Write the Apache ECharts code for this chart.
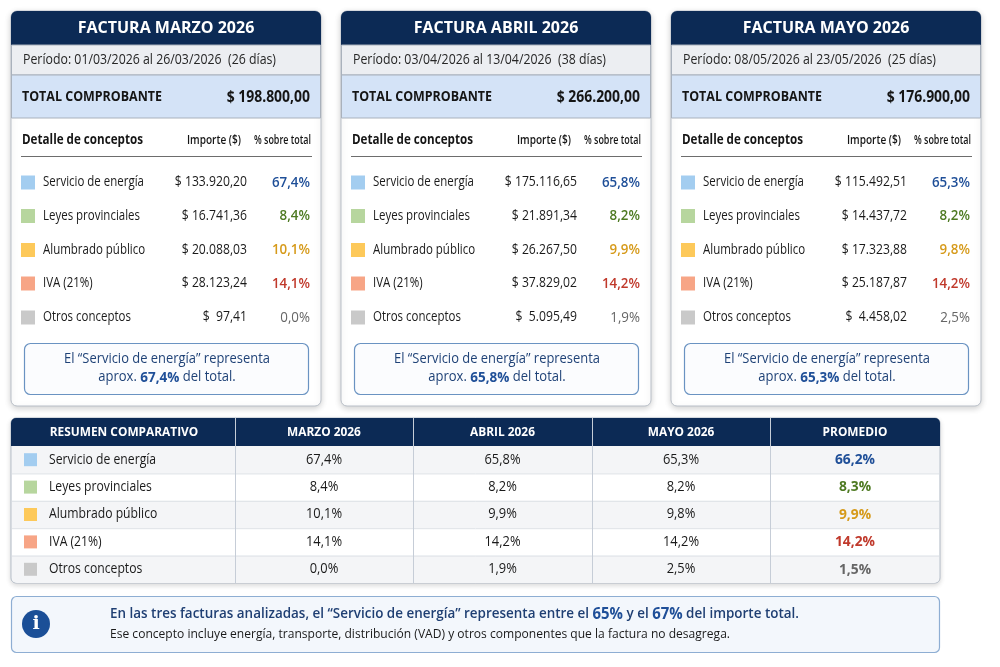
<!DOCTYPE html>
<html>
<head>
<meta charset="utf-8">
<script src="https://cdn.jsdelivr.net/npm/echarts@6/dist/echarts.min.js"></script>
<style>
  html, body { margin: 0; padding: 0; background: #fff; }
  #chart-container { width: 1000px; height: 667px; }
</style>
</head>
<body>
<div id="chart-container"></div>
<script>
// data
const concepts = ["Servicio de energía", "Leyes provinciales", "Alumbrado público", "IVA (21%)", "Otros conceptos"];
const invoiceTitles = ["FACTURA MARZO 2026", "FACTURA ABRIL 2026", "FACTURA MAYO 2026"];
const periods = [
  "Período: 01/03/2026 al 26/03/2026  (26 días)",
  "Período: 03/04/2026 al 13/04/2026  (38 días)",
  "Período: 08/05/2026 al 23/05/2026  (25 días)",
];
const totals = [198800.0, 266200.0, 176900.0];
const amountsMarzo = [133920.2, 16741.36, 20088.03, 28123.24, 97.41];
const amountsAbril = [175116.65, 21891.34, 26267.5, 37829.02, 5095.49];
const amountsMayo = [115492.51, 14437.72, 17323.88, 25187.87, 4458.02];
const pctMarzo = [67.4, 8.4, 10.1, 14.1, 0.0];
const pctAbril = [65.8, 8.2, 9.9, 14.2, 1.9];
const pctMayo = [65.3, 8.2, 9.8, 14.2, 2.5];
const pctPromedio = [66.2, 8.3, 9.9, 14.2, 1.5];
const tableHeaders = ["RESUMEN COMPARATIVO", "MARZO 2026", "ABRIL 2026", "MAYO 2026", "PROMEDIO"];

// styles
const NAVY = "#0c2a55";
const FONT = "'Open Sans', 'Noto Sans', sans-serif";
const squareColors = ["#a3cdf0", "#b7d69e", "#fdc95a", "#f7a586", "#c9c9c9"];
const pctColors = ["#1f4f98", "#4e7a22", "#d69a1a", "#c0392b", "#666666"];

const measureCtx = document.createElement("canvas").getContext("2d");

function fmtMoney(v) {
  const [i, d] = v.toFixed(2).split(".");
  const int = i.replace(/\B(?=(\d{3})+(?!\d))/g, ".");
  return (v < 10000 ? "$  " : "$ ") + int + "," + d;
}
function fmtPct(v) {
  return v.toFixed(1).replace(".", ",") + "%";
}

// text element; opts.sx squeezes horizontally, opts.w fits to a width
function text(x, y, str, opts) {
  const o = Object.assign({
    text: str,
    fill: "#1a1a1a",
    fontFamily: FONT,
    fontSize: 13,
    fontWeight: "normal",
    textAlign: "left",
    textVerticalAlign: "middle",
  }, opts || {});
  let sx = o.sx || 1;
  if (o.w) {
    measureCtx.font = o.fontWeight + " " + o.fontSize + "px " + o.fontFamily;
    sx = o.w / measureCtx.measureText(str).width;
  }
  delete o.sx;
  delete o.w;
  return { type: "text", x: x, y: y, scaleX: sx, silent: true, style: o };
}
function rect(x, y, w, h, opts, shapeR) {
  return {
    type: "rect",
    silent: true,
    shape: { x: x, y: y, width: w, height: h, r: shapeR || 0 },
    style: opts,
  };
}

const els = [];

// invoice cards
const cardX = [11, 341, 671];
const amounts = [amountsMarzo, amountsAbril, amountsMayo];
const pcts = [pctMarzo, pctAbril, pctMayo];
const rowY = [182.5, 216, 250, 283.5, 317.5];

cardX.forEach((x0, c) => {
  const W = 310;
  els.push(rect(x0, 11, W, 395, {
    fill: "#fff", stroke: "#b9bfc8", lineWidth: 1,
    shadowBlur: 6, shadowColor: "rgba(0,0,0,0.18)", shadowOffsetY: 2,
  }, 6));
  els.push(rect(x0, 11, W, 34, { fill: NAVY }, [6, 6, 0, 0]));
  els.push(text(x0 + W / 2, 28.5, invoiceTitles[c], {
    fill: "#fff", fontSize: 16, fontWeight: "bold", textAlign: "center",
  }));
  els.push(rect(x0 + 0.5, 45, W - 1, 30, { fill: "#eceef2", stroke: "#a9b1bc", lineWidth: 1 }));
  els.push(text(x0 + 12, 60, periods[c], { fontSize: 14, fill: "#262626", w: 253 }));
  els.push(rect(x0 + 0.5, 75, W - 1, 43, { fill: "#d4e3f7", stroke: "#a9b1bc", lineWidth: 1 }));
  els.push(text(x0 + 11, 97.5, "TOTAL COMPROBANTE", { fontSize: 13.5, fontWeight: "bold", fill: "#151515", w: 140 }));
  els.push(text(x0 + 299, 97.5, fmtMoney(totals[c]), {
    fontSize: 15.5, fontWeight: "bold", fill: "#151515", textAlign: "right", sx: 0.9,
  }));

  els.push(text(x0 + 11, 140, "Detalle de conceptos", { fontSize: 13.5, fontWeight: "bold", fill: "#151515", w: 121 }));
  els.push(text(x0 + 230, 140, "Importe ($)", { fontSize: 12.5, fontWeight: 600, fill: "#151515", textAlign: "right", w: 54 }));
  els.push(text(x0 + 300, 140, "% sobre total", { fontSize: 12.5, fontWeight: 600, fill: "#151515", textAlign: "right", w: 57 }));
  els.push({
    type: "line", silent: true,
    shape: { x1: x0 + 10, y1: 156.5, x2: x0 + 301, y2: 156.5 },
    style: { stroke: "#6d6d6d", lineWidth: 1 },
  });

  concepts.forEach((name, i) => {
    const y = rowY[i];
    els.push(rect(x0 + 10, y - 7, 14, 14, { fill: squareColors[i] }));
    els.push(text(x0 + 32, y, name, { fontSize: 14, fill: "#1a1a1a", sx: 0.82 }));
    els.push(text(x0 + 236, y, fmtMoney(amounts[c][i]), { fontSize: 14, fill: "#1a1a1a", textAlign: "right", sx: 0.87 }));
    els.push(text(x0 + 299, y, fmtPct(pcts[c][i]), {
      fontSize: 14.5, fill: pctColors[i], textAlign: "right", fontWeight: i === 4 ? "normal" : 600, sx: 0.92,
    }));
  });

  // note box
  els.push(rect(x0 + 13.5, 343.5, 284, 51, { fill: "#fbfcfe", stroke: "#6a93c2", lineWidth: 1.2 }, 6));
  els.push(text(x0 + W / 2 + 1, 359, "El “Servicio de energía” representa", {
    fontSize: 14, fill: "#1f4277", textAlign: "center", w: 206,
  }));
  els.push(text(x0 + W / 2 + 1, 377.5, "{n|aprox. }{b|" + fmtPct(pcts[c][0]) + "}{n| del total.}", {
    textAlign: "center",
    sx: 0.93,
    rich: {
      n: { fontFamily: FONT, fontSize: 14, fill: "#1f4277" },
      b: { fontFamily: FONT, fontSize: 14.5, fontWeight: "bold", fill: "#1f4f98" },
    },
  }));
});

// summary table
const colX = [11, 235, 413, 592, 770, 940];
const tTop = 418, tHead = 28, rowH = 27.4;
const tableCols = [pctMarzo, pctAbril, pctMayo, pctPromedio];
const tBottom = tTop + tHead + rowH * concepts.length;

els.push(rect(colX[0], tTop, colX[5] - colX[0], tBottom - tTop, {
  fill: "#fff", stroke: "#b3bcc8", lineWidth: 1,
  shadowBlur: 5, shadowColor: "rgba(0,0,0,0.15)", shadowOffsetY: 2,
}, 5));
els.push(rect(colX[0], tTop, colX[5] - colX[0], tHead, { fill: NAVY }, [5, 5, 0, 0]));
concepts.forEach((name, i) => {
  const y = tTop + tHead + rowH * i;
  els.push(rect(colX[0] + 1, y, colX[5] - colX[0] - 2, rowH,
    { fill: i % 2 === 0 ? "#f4f5f7" : "#ffffff" }, i === 4 ? [0, 0, 5, 5] : 0));
  if (i > 0) {
    els.push({
      type: "line", silent: true,
      shape: { x1: colX[0] + 1, y1: y + 0.5, x2: colX[5] - 1, y2: y + 0.5 },
      style: { stroke: "#dde1e6", lineWidth: 1 },
    });
  }
});
for (let k = 1; k < 5; k++) {
  els.push({
    type: "line", silent: true,
    shape: { x1: colX[k] + 0.5, y1: tTop, x2: colX[k] + 0.5, y2: tBottom },
    style: { stroke: "#c6cdd7", lineWidth: 1 },
  });
}
tableHeaders.forEach((h, k) => {
  els.push(text((colX[k] + colX[k + 1]) / 2 + (k === 0 ? 1 : 0), tTop + tHead / 2 + 0.5, h, {
    fill: "#fff", fontSize: 12.5, fontWeight: "bold", textAlign: "center", sx: 0.95,
  }));
});
concepts.forEach((name, i) => {
  const y = tTop + tHead + rowH * i + rowH / 2;
  els.push(rect(24, y - 6.5, 13, 13, { fill: squareColors[i] }));
  els.push(text(49, y, name, { fontSize: 14, fill: "#1a1a1a", sx: 0.87 }));
  tableCols.forEach((col, k) => {
    const avg = k === 3;
    els.push(text((colX[k + 1] + colX[k + 2]) / 2, y, fmtPct(col[i]), {
      fontSize: avg ? 15 : 14,
      fontWeight: avg ? "bold" : "normal",
      fill: avg ? pctColors[i] : "#1a1a1a",
      textAlign: "center",
      sx: 0.92,
    }));
  });
});

// info box
els.push(rect(11.5, 596.5, 928, 56, { fill: "#f3f7fc", stroke: "#8eaed3", lineWidth: 1.2 }, 5));
els.push({
  type: "circle", silent: true,
  shape: { cx: 36, cy: 624, r: 14 },
  style: { fill: "#1b4f97" },
});
els.push(text(36, 624.5, "i", {
  fill: "#fff", fontSize: 19, fontWeight: "bold", textAlign: "center", fontFamily: "'DejaVu Serif', serif",
}));
els.push(text(110, 614.5,
  "{n|En las tres facturas analizadas, el “Servicio de energía” representa entre el }{b|65%}{n| y el }{b|67%}{n| del importe total.}", {
  sx: 0.96,
  rich: {
    n: { fontFamily: FONT, fontSize: 14, fontWeight: 600, fill: "#1f3f73" },
    b: { fontFamily: FONT, fontSize: 15.5, fontWeight: "bold", fill: "#1f4f98" },
  },
}));
els.push(text(110, 634.5,
  "Ese concepto incluye energía, transporte, distribución (VAD) y otros componentes que la factura no desagrega.", {
  fontSize: 13, fill: "#1a1a1a", w: 620,
}));

const dom = document.getElementById("chart-container");
const chart = echarts.init(dom, null, { renderer: "canvas" });
chart.setOption({
  animation: false,
  backgroundColor: "#ffffff",
  graphic: { elements: els },
});
window.addEventListener("resize", chart.resize);
</script>
</body>
</html>
